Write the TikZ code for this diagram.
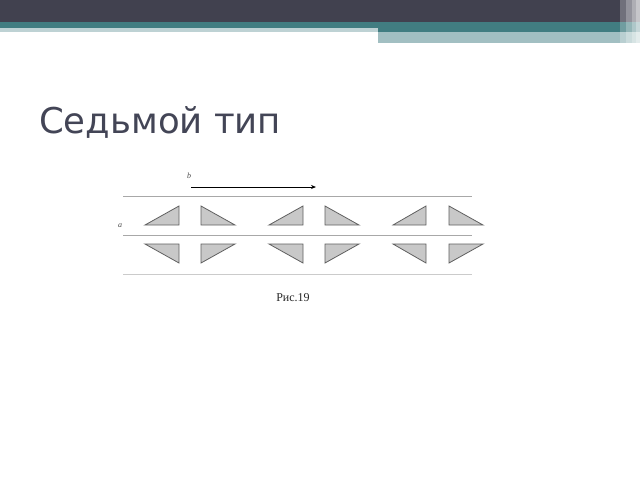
\documentclass[tikz,border=0pt]{standalone}
\usepackage{fontspec}
\setmainfont{Liberation Serif}
\newfontfamily\titlefont{DejaVu Sans}
\usetikzlibrary{arrows.meta}
\definecolor{hdark}{HTML}{41414F}
\definecolor{hteal}{HTML}{417D81}
\definecolor{hlight}{HTML}{A2BFC2}
\definecolor{titlec}{HTML}{434556}
\definecolor{trifill}{HTML}{C8C8C8}
\definecolor{tristroke}{HTML}{606060}
\definecolor{linec}{HTML}{A8A8A8}
\tikzset{
  tri/.style={fill=trifill, draw=tristroke, line width=0.8pt, line join=miter},
  guide/.style={draw=linec, line width=0.9pt},
  lbl/.style={font=\itshape\fontsize{8}{9}\selectfont, text=black!70, inner sep=0pt}
}
\begin{document}
\begin{tikzpicture}[x=1pt,y=-1pt]
\useasboundingbox (0,0) rectangle (640,480);
\fill[white] (0,0) rectangle (640,480);
% header
\fill[hlight] (378,29) rectangle (640,43);
\fill[hlight!70] (0,28) rectangle (378,31.5);
\fill[hteal] (0,22) rectangle (640,28);
\fill[hteal] (378,28) rectangle (640,31.5);
\fill[hdark] (0,0) rectangle (640,22);
\fill[white,opacity=0.25] (620,0) rectangle (640,43);
\fill[white,opacity=0.25] (626,0) rectangle (640,43);
\fill[white,opacity=0.25] (632,0) rectangle (640,43);
\fill[white,opacity=0.3] (636,0) rectangle (640,43);
% title
\node[anchor=base west, inner sep=0pt, text=titlec, font=\titlefont\fontsize{35.5}{40}\selectfont] (title) at (39,133) {Седьмой тип};
% guide lines
\coordinate (l1a) at (123,196); \coordinate (l1b) at (472,196);
\coordinate (l2a) at (123,235); \coordinate (l2b) at (472,235);
\coordinate (l3a) at (123,274); \coordinate (l3b) at (472,274);
\draw[guide] (l1a) -- (l1b);
\draw[guide] (l2a) -- (l2b);
\draw[guide, draw=linec!60] (l3a) -- (l3b);
% arrow b
\coordinate (bs) at (191,187); \coordinate (be) at (316,187);
\draw[line width=0.8pt, -{Stealth[length=5pt,width=4pt]}] (bs) -- (be);
\node[lbl] (b) at (189,176) {b};
\node[lbl] (a) at (120,226) {a};
% triangles top row
\draw[tri] (145,225) -- (179,206) -- (179,225) -- cycle;
\draw[tri] (201,206) -- (201,225) -- (235,225) -- cycle;
\draw[tri] (269,225) -- (303,206) -- (303,225) -- cycle;
\draw[tri] (325,206) -- (325,225) -- (359,225) -- cycle;
\draw[tri] (393,225) -- (426,206) -- (426,225) -- cycle;
\draw[tri] (449,206) -- (449,225) -- (483,225) -- cycle;
% triangles bottom row
\draw[tri] (145,244) -- (179,244) -- (179,263) -- cycle;
\draw[tri] (201,244) -- (235,244) -- (201,263) -- cycle;
\draw[tri] (269,244) -- (303,244) -- (303,263) -- cycle;
\draw[tri] (325,244) -- (359,244) -- (325,263) -- cycle;
\draw[tri] (393,244) -- (426,244) -- (426,263) -- cycle;
\draw[tri] (449,244) -- (483,244) -- (449,263) -- cycle;
% caption
\node[anchor=base, inner sep=0pt, font=\fontsize{12}{14}\selectfont, text=black!85] (cap) at (293,301.5) {Рис.19};
\end{tikzpicture}
\end{document}
